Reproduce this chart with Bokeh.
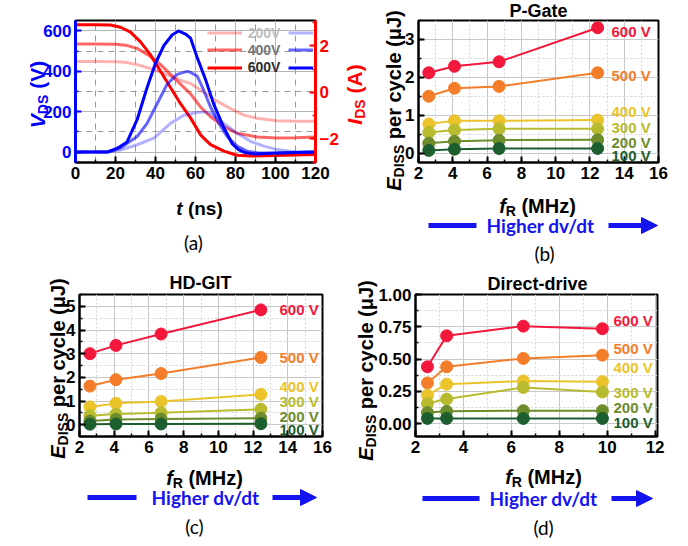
import math
from bokeh.plotting import figure
from bokeh.models import (Range1d, LinearAxis, SingleIntervalTicker, Label, Arrow,
                          NormalHead, Legend, LegendItem, PrintfTickFormatter)
from bokeh.layouts import column, row
from bokeh.embed import file_html
from bokeh.resources import INLINE

# ---------------- data: panel (a) waveforms ----------------
t_vds_200 = [0, 10, 16, 22.5, 30.8, 39.2, 47.5, 54.2, 60, 64.2, 67.5, 74.2, 80.8, 87.5, 94.2, 100.8, 110.8, 120]
vds_200 = [0, 0, 0, 10, 36, 69, 142, 182, 195, 199, 191, 142, 93, 53, 29, 12, 0, 0]
t_vds_400 = [0, 10, 16, 22.5, 30.8, 35.8, 40.8, 45.8, 50.8, 55.8, 57.5, 60.8, 64.2, 67.5, 71.7, 75.8, 80.8, 85.8, 90.8, 100, 110, 120]
vds_400 = [0, 0, 0, 20, 77, 142, 239, 336, 385, 400, 395, 377, 304, 223, 142, 77, 29, 4, -4, -6, -3, 0]
t_vds_600 = [0, 10, 16, 20, 22.5, 25.8, 30.8, 35.8, 40, 44.2, 48.3, 51.5, 55, 57.5, 60.8, 65, 69.2, 74.2, 78.3, 81.7, 85, 90, 100, 110, 120]
vds_600 = [0, 0, 0, 15, 28, 50, 160, 320, 440, 528, 580, 600, 585, 565, 470, 360, 235, 120, 42, 10, -4, -10, -5, -2, 0]

t_ids_200 = [0, 10, 20, 25, 30.8, 39.2, 47.5, 54.2, 57.5, 60, 64.2, 70.8, 77.5, 84.2, 90.8, 100.8, 110, 120]
ids_200 = [1.33, 1.33, 1.32, 1.29, 1.19, 0.98, 0.70, 0.47, 0.38, 0.24, 0.0, -0.38, -0.70, -0.98, -1.12, -1.22, -1.24, -1.24]
t_ids_400 = [0, 10, 20, 25, 30.8, 37.5, 42.5, 47.5, 52.5, 57.5, 62.5, 67.5, 74.2, 80.8, 90.8, 100.8, 110, 120]
ids_400 = [2.08, 2.08, 2.07, 2.03, 1.89, 1.54, 1.19, 0.77, 0.35, -0.07, -0.63, -1.05, -1.47, -1.76, -1.92, -1.97, -1.95, -1.92]
t_ids_600 = [0, 10, 17.5, 22.5, 27.5, 32.5, 37.5, 42.5, 47.5, 52.5, 57.5, 62.5, 67.5, 74.2, 80.8, 87.5, 100, 110, 120]
ids_600 = [2.91, 2.91, 2.9, 2.8, 2.59, 2.17, 1.61, 0.91, 0.21, -0.49, -1.1, -1.83, -2.25, -2.53, -2.71, -2.74, -2.72, -2.7, -2.68]

legend_labels = ["200V", "400V", "600V"]

# ---------------- data: panels (b)-(d) ----------------
voltages = ["600 V", "500 V", "400 V", "300 V", "200 V", "100 V"]

f_pgate = [2.6, 4.1, 6.7, 12.45]
pg_600 = [2.12, 2.29, 2.41, 3.31]
pg_500 = [1.50, 1.71, 1.76, 2.12]
pg_400 = [0.77, 0.85, 0.85, 0.87]
pg_300 = [0.54, 0.61, 0.64, 0.64]
pg_200 = [0.26, 0.31, 0.34, 0.35]
pg_100 = [0.07, 0.10, 0.12, 0.12]

f_hdgit = [2.6, 4.1, 6.7, 12.45]
hd_600 = [3.00, 3.35, 3.83, 4.85]
hd_500 = [1.63, 1.90, 2.16, 2.84]
hd_400 = [0.75, 0.90, 0.98, 1.28]
hd_300 = [0.38, 0.45, 0.50, 0.65]
hd_200 = [0.15, 0.22, 0.24, 0.27]
hd_100 = [0.02, 0.03, 0.03, 0.04]

f_direct = [2.5, 3.3, 6.5, 9.8]
dd_600 = [0.44, 0.68, 0.755, 0.735]
dd_500 = [0.315, 0.44, 0.505, 0.53]
dd_400 = [0.22, 0.305, 0.33, 0.325]
dd_300 = [0.155, 0.19, 0.28, 0.245]
dd_200 = [0.085, 0.095, 0.10, 0.10]
dd_100 = [0.04, 0.04, 0.04, 0.04]

# ---------------- styles ----------------
FONT = "Liberation Sans"
SERIES_COLORS = ["#f3173c", "#f47d2a", "#ebc42c", "#b9bb2e", "#6d8c2c", "#1d5e2f"]
BLUE = "#0000ff"
RED = "#ff0000"
ARROW_BLUE = "#1414f0"
PAGE_W, PAGE_H = 688, 546

W = {" ": 278, "(": 333, ")": 333, "-": 333, "/": 278, "A": 722, "D": 722, "E": 667,
     "H": 722, "I": 278, "J": 556, "M": 833, "R": 722, "S": 667, "V": 667, "a": 556,
     "c": 556, "d": 611, "e": 556, "f": 333, "l": 278, "n": 611, "p": 611, "r": 389,
     "s": 556, "t": 333, "y": 556, "z": 500, "\u03bc": 611}


def tw(s, size):
    return sum(W.get(ch, 556) for ch in s) * size / 1000.0


# transparent overlay whose data coordinates are page pixels (used for all free texts)
ov = figure(width=PAGE_W, height=PAGE_H, x_range=Range1d(0, PAGE_W), y_range=Range1d(PAGE_H, 0),
            min_border=0, min_border_left=0, min_border_right=0, min_border_top=0,
            min_border_bottom=0, x_axis_type=None, y_axis_type=None,
            toolbar_location=None, output_backend="svg")
ov.grid.visible = False
ov.outline_line_color = None
ov.background_fill_color = None
ov.border_fill_color = None
ov.margin = (-PAGE_H, 0, 0, 0)


def label(px, py, text, size, color="black", style="bold", font=FONT,
          align="left", baseline="middle", angle=0.0):
    ov.add_layout(Label(x=px, y=py, text=text, text_font_size=f"{size}px", text_color=color,
                        text_font_style=style, text_font=font, text_align=align,
                        text_baseline=baseline, angle=angle))


def hcomp(cx, cy, pieces, color="black"):
    total = sum(tw(t, s) for t, s, _, _ in pieces)
    main = max(s for _, s, _, _ in pieces)
    x = cx - total / 2.0
    base = cy + 0.34 * main
    for t, s, st, sub in pieces:
        lead = len(t) - len(t.lstrip(" "))
        x += tw(" " * lead, s)
        label(x, base + (5 if sub else 0), t.strip(" "), s, color, st, baseline="alphabetic")
        x += tw(t.strip(" "), s)


def vcomp(cx, cy, pieces, color="black"):
    total = sum(tw(t, s) for t, s, _, _ in pieces)
    main = max(s for _, s, _, _ in pieces)
    y = cy + total / 2.0
    base = cx + 0.34 * main
    for t, s, st, sub in pieces:
        lead = len(t) - len(t.lstrip(" "))
        y -= tw(" " * lead, s)
        label(base + (5 if sub else 0), y, t.strip(" "), s, color, st, baseline="alphabetic",
              angle=math.pi / 2)
        y -= tw(t.strip(" "), s)


def dvdt(y, bar0, bar1, tcx, arr0, arr1):
    ov.add_layout(Arrow(end=None, x_start=bar0, x_end=bar1, y_start=y, y_end=y,
                        line_color=ARROW_BLUE, line_width=5))
    ov.add_layout(Arrow(end=None, x_start=arr0, x_end=arr1 - 12, y_start=y, y_end=y,
                        line_color=ARROW_BLUE, line_width=5))
    ov.add_layout(Arrow(end=NormalHead(size=16, fill_color=ARROW_BLUE, line_color=ARROW_BLUE,
                                       line_width=1),
                        x_start=arr1 - 16, x_end=arr1, y_start=y, y_end=y,
                        line_color=ARROW_BLUE, line_width=5))
    label(tcx, y, "Higher dv/dt", 19, ARROW_BLUE, "bold", "Lato", align="center")


def make_fig(w, h, bl, br, bt, bb, xr, yr):
    p = figure(width=w, height=h, x_range=Range1d(*xr), y_range=Range1d(*yr),
               min_border_left=bl, min_border_right=br, min_border_top=bt,
               min_border_bottom=bb, toolbar_location=None, output_backend="svg")
    p.outline_line_color = "black"
    p.outline_line_width = 2
    p.background_fill_color = "white"
    p.border_fill_color = "white"
    return p


def style_axis(ax, color="black", lw=2):
    ax.axis_line_color = color
    ax.axis_line_width = lw
    ax.major_tick_line_color = color
    ax.minor_tick_line_color = color
    ax.major_tick_line_width = 2
    ax.minor_tick_line_width = 1.5
    ax.major_tick_in = 6
    ax.major_tick_out = 0
    ax.minor_tick_in = 3
    ax.minor_tick_out = 0
    ax.major_label_text_font = FONT
    ax.major_label_text_font_style = "bold"
    ax.major_label_text_font_size = "17px"
    ax.major_label_text_color = color
    ax.major_label_standoff = 4


def style_grid(p, major="#c8c8c8", minor="#d4d4d4", dash="2 2"):
    for g in (p.xgrid, p.ygrid):
        g.grid_line_color = major
        g.grid_line_width = 1
        g.minor_grid_line_color = minor
        g.minor_grid_line_dash = dash
        g.minor_grid_line_width = 1


# ================= panel (a) =================
pa = make_fig(360, 262, 75, 45, 20, 97, (0, 120), (-52, 652))
A_FL, A_FB = 75, 165
pa.extra_y_ranges = {"cur": Range1d(-3.02, 3.09)}
pa.xaxis.ticker = SingleIntervalTicker(interval=20, num_minor_ticks=2)
pa.yaxis.ticker = SingleIntervalTicker(interval=200, num_minor_ticks=2)
style_axis(pa.xaxis[0], "black", 2)
style_axis(pa.yaxis[0], BLUE, 3)
rax = LinearAxis(y_range_name="cur", ticker=SingleIntervalTicker(interval=2, num_minor_ticks=2))
style_axis(rax, RED, 3)
pa.add_layout(rax, "right")
style_grid(pa, major="#b4b4b4", minor="#9a9a9a", dash="6 5")

reds = []
for tt, vv, al in [(t_ids_200, ids_200, 0.3), (t_ids_400, ids_400, 0.6), (t_ids_600, ids_600, 1.0)]:
    reds.append(pa.line(tt, vv, line_color=RED, line_alpha=al, line_width=3, y_range_name="cur"))
blues = []
for tt, vv, al in [(t_vds_200, vds_200, 0.3), (t_vds_400, vds_400, 0.6), (t_vds_600, vds_600, 1.0)]:
    blues.append(pa.line(tt, vv, line_color=BLUE, line_alpha=al, line_width=3))

leg_text_colors = ["#bdbdbd", "#777777", "#2e2e2e"]
leg_rows_y = [35.7, 52.7, 70.3]
for lab, rr, bb, tc, cy in zip(legend_labels, reds, blues, leg_text_colors, leg_rows_y):
    vy = A_FB - (cy + 8.5)
    common = dict(glyph_height=17, label_height=17, padding=0, spacing=0, margin=0,
                  border_line_color=None, background_fill_alpha=0,
                  label_text_font=FONT, label_text_font_style="bold",
                  label_text_font_size="14px", label_text_baseline="middle")
    pa.add_layout(Legend(items=[LegendItem(label=lab, renderers=[rr])],
                         location=(206.7 - A_FL, vy), glyph_width=35, label_standoff=6,
                         label_text_color=tc, **common))
    pa.add_layout(Legend(items=[LegendItem(label="", renderers=[bb])],
                         location=(288.3 - A_FL, vy), glyph_width=25, label_standoff=0,
                         **common))

vcomp(30, 94, [("V", 21, "bold italic", False), ("DS", 14, "bold", True),
               (" (V)", 21, "bold", False)], BLUE)
vcomp(347, 94, [("I", 21, "bold italic", False), ("DS", 14, "bold", True),
                (" (A)", 21, "bold", False)], RED)
hcomp(199, 202, [("t", 19, "bold italic", False), (" (ns)", 19, "bold", False)])
label(193, 242, "(a)", 19, "black", "normal", "Lato", align="center")


# ================= energy panels =================
def energy_panel(p, f, series, ytick, lab_x, lab_y, title, title_xy, ylab_xy,
                 flab_xy, dvdt_args, cap_xy, cap):
    p.xaxis.ticker = SingleIntervalTicker(interval=2, num_minor_ticks=2)
    p.yaxis.ticker = SingleIntervalTicker(interval=ytick, num_minor_ticks=2)
    style_axis(p.xaxis[0])
    style_axis(p.yaxis[0])
    style_grid(p)
    for vals, col in zip(series, SERIES_COLORS):
        p.line(f, vals, line_color=col, line_width=2)
        p.scatter(f, vals, size=12, fill_color=col, line_color=col)
    for txt, col, ly in zip(voltages, SERIES_COLORS, lab_y):
        label(lab_x, ly, txt, 15, col, "bold")
    label(title_xy[0], title_xy[1], title, 18, "black", "bold", align="center")
    vcomp(ylab_xy[0], ylab_xy[1], [("E", 20, "bold italic", False), ("DISS", 14, "bold", True),
                                   (" per cycle (\u03bcJ)", 20, "bold", False)])
    hcomp(flab_xy[0], flab_xy[1], [("f", 20, "bold italic", False), ("R", 14, "bold", True),
                                   (" (MHz)", 20, "bold", False)])
    dvdt(*dvdt_args)
    label(cap_xy[0], cap_xy[1], cap, 19, "black", "normal", "Lato", align="center")


pb = make_fig(328, 262, 58, 30, 20, 100, (2, 16), (-0.25, 3.5))
energy_panel(pb, f_pgate, [pg_600, pg_500, pg_400, pg_300, pg_200, pg_100], 1, 611,
             [31, 75, 111, 127, 142, 155], "P-Gate", (538, 10), (387, 100), (537, 199),
             (225, 428, 476, 540, 608, 657), (544, 253), "(b)")

pc = make_fig(344, 284, 79, 22, 31, 110, (2, 16), (-0.5, 5.5))
energy_panel(pc, f_hdgit, [hd_600, hd_500, hd_400, hd_300, hd_200, hd_100], 1, 279,
             [308.5, 356.5, 386, 401, 415.5, 428.5], "HD-GIT", (200, 282), (51, 368), (204, 471),
             (497, 87, 136, 205, 272, 316), (194, 526), "(c)")

pd = make_fig(344, 284, 71, 31, 32, 108, (2, 12.1), (-0.1, 1.0))
energy_panel(pd, f_direct, [dd_600, dd_500, dd_400, dd_300, dd_200, dd_100], 0.25, 613,
             [319.5, 348, 367, 392, 406.5, 421.5], "Direct-drive", (537, 283), (359, 370), (543, 470),
             (498, 422, 479, 543, 611, 652), (543, 527), "(d)")
pd.yaxis[0].formatter = PrintfTickFormatter(format="%.2f")

layout = column(row(pa, pb), row(pc, pd), ov)
open("out.html", "w").write(file_html(layout, INLINE))
